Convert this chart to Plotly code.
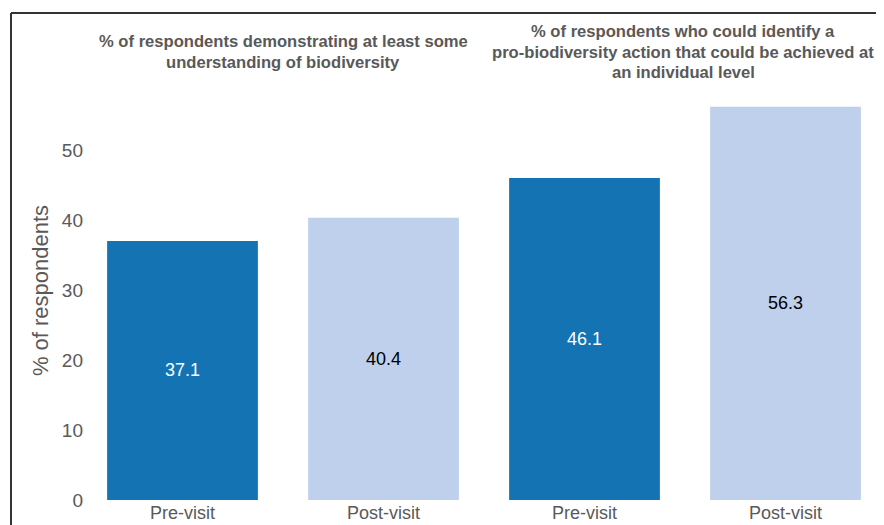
import plotly.graph_objects as go

categories = ["Pre-visit", "Post-visit", "Pre-visit", "Post-visit"]
values = [37.1, 40.4, 46.1, 56.3]
bar_colors = ["#1473B3", "#BED0EC", "#1473B3", "#BED0EC"]
text_colors = ["white", "black", "white", "black"]
group_titles = [
    ["% of respondents demonstrating at least some",
     "understanding of biodiversity"],
    ["% of respondents who could identify a",
     "pro-biodiversity action that could be achieved at",
     "an individual level"],
]
y_ticks = [0, 10, 20, 30, 40, 50]

xs = list(range(len(categories)))
font_family = "Arial, Liberation Sans, sans-serif"
gray = "#595959"

# The page body has an 8px margin, so the figure is drawn 8px smaller
W, H = 876, 517
ml, mr, mt, mb = 74, 0, 73, 25
pw = W - ml - mr
ph = H - mt - mb

fig = go.Figure()
fig.add_trace(go.Bar(
    x=xs, y=values, width=0.75,
    marker=dict(color=bar_colors, line=dict(width=0)),
    text=[f"{v:.1f}" for v in values],
    textposition="inside", insidetextanchor="middle",
    textfont=dict(color=text_colors, size=18, family=font_family),
    textangle=0,
))

fig.update_layout(
    width=W, height=H,
    margin=dict(l=ml, r=mr, t=mt, b=mb),
    plot_bgcolor="white", paper_bgcolor="white",
    showlegend=False,
    font=dict(family=font_family, color=gray),
    xaxis=dict(
        range=[-0.5, -0.5 + 4 * pw / 804], tickmode="array", tickvals=xs,
        ticktext=categories, tickfont=dict(size=18, color=gray),
        showgrid=False, showline=False, zeroline=False, ticks="",
        ticklabelstandoff=0,
        automargin=False,
    ),
    yaxis=dict(
        range=[0, 60], tickvals=y_ticks, tickfont=dict(size=19, color=gray),
        showgrid=False, showline=False, zeroline=False, ticks="",
        ticklabelstandoff=-2,
        title=dict(text="% of respondents", font=dict(size=22, color=gray), standoff=7),
        automargin=False,
    ),
)

def px_to_paper_x(px):
    return (px - ml) / pw

def px_to_paper_y(py):
    return (H - mb - py) / ph

# group titles centred over each pair of bars, one annotation per line
line_gap = 20.5
centre_px = 44
for i, lines in enumerate(group_titles):
    n = len(lines)
    for j, line in enumerate(lines):
        ypx = centre_px + (j - (n - 1) / 2) * line_gap
        fig.add_annotation(
            x=2 * i + 0.5, xref="x", y=px_to_paper_y(ypx), yref="paper",
            yanchor="middle", text=f"<b>{line}</b>", showarrow=False,
            xshift=-2 * i,
            font=dict(size=16.6, color=gray, family=font_family),
        )

# frame lines (top and left) of the cropped chart box
fig.add_shape(type="line", xref="paper", yref="paper",
              x0=px_to_paper_x(3), x1=px_to_paper_x(890),
              y0=px_to_paper_y(5), y1=px_to_paper_y(5),
              line=dict(color="#333333", width=2))
fig.add_shape(type="line", xref="paper", yref="paper",
              x0=px_to_paper_x(3), x1=px_to_paper_x(3),
              y0=px_to_paper_y(5), y1=px_to_paper_y(530),
              line=dict(color="#333333", width=2))

fig.write_html("out.html")
